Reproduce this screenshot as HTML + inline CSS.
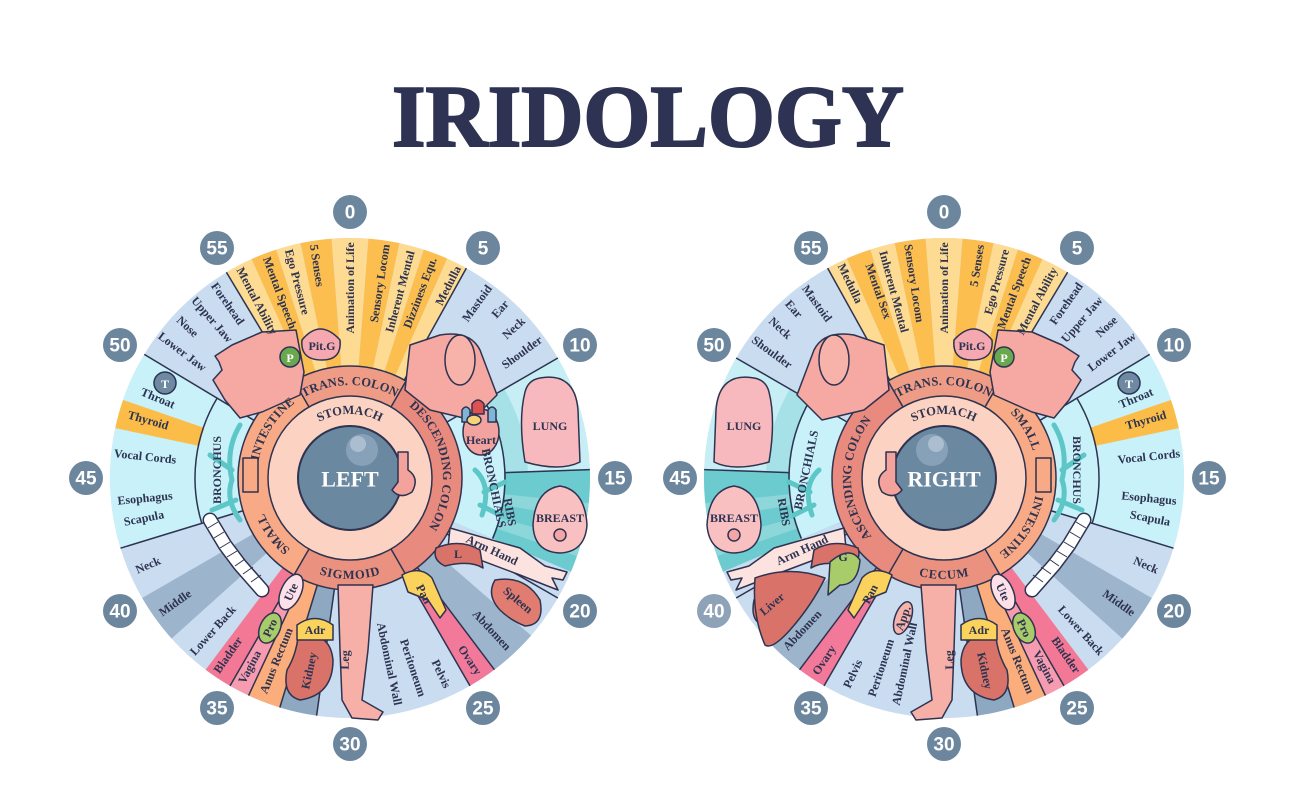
<!DOCTYPE html>
<html><head><meta charset="utf-8"><style>
html,body{margin:0;padding:0;background:#fff}
svg{display:block}
.t{font-family:"Liberation Serif",serif;font-weight:bold;font-size:12px;fill:#2d3350;text-anchor:middle;dominant-baseline:central}
.r{font-family:"Liberation Serif",serif;font-weight:bold;font-size:12.5px;fill:#2d3350;text-anchor:middle;dominant-baseline:central;letter-spacing:0.5px}
.b{font-family:"Liberation Sans",sans-serif;font-weight:bold;font-size:19px;fill:#fff;text-anchor:middle;dominant-baseline:central}
.s{fill:none;stroke-width:128px}
.k{stroke:#2d3350;stroke-width:1.5}
.o{stroke:#2d3350;stroke-width:1.5;stroke-linejoin:round}
</style></head><body>
<svg width="1296" height="810" viewBox="0 0 1296 810" xmlns="http://www.w3.org/2000/svg">
<rect width="1296" height="810" fill="#fff"/>
<text x="648" y="146" text-anchor="middle" font-family="Liberation Serif,serif" font-weight="bold" font-size="88" fill="#2e3353" stroke="#2e3353" stroke-width="2" textLength="512" lengthAdjust="spacingAndGlyphs">IRIDOLOGY</text>
<defs>
<path id="pTop" d="M -97 0 A 97 97 0 0 1 97 0"/>
<path id="pRight" d="M 0 -97 A 97 97 0 0 1 0 97"/>
<path id="pBot" d="M -97 0 A 97 97 0 0 0 97 0"/>
<path id="pLeft" d="M 0 97 A 97 97 0 0 1 0 -97"/>
<path id="pStom" d="M -68 0 A 68 68 0 0 1 68 0"/>
</defs>

<g id="W">
<g transform="translate(350 478)">
<circle r="240" fill="#c9dcf0"/>
<circle class="s" r="176" pathLength="360" stroke="#fedb92" stroke-dasharray="6.8 400" transform="rotate(-121)"/>
<circle class="s" r="176" pathLength="360" stroke="#fcbf4f" stroke-dasharray="6.3 400" transform="rotate(-114.2)"/>
<circle class="s" r="176" pathLength="360" stroke="#fedb92" stroke-dasharray="6 400" transform="rotate(-107.9)"/>
<circle class="s" r="176" pathLength="360" stroke="#fcbf4f" stroke-dasharray="7.5 400" transform="rotate(-101.9)"/>
<circle class="s" r="176" pathLength="360" stroke="#fedb92" stroke-dasharray="8.8 400" transform="rotate(-94.4)"/>
<circle class="s" r="176" pathLength="360" stroke="#fcbf4f" stroke-dasharray="7.5 400" transform="rotate(-85.6)"/>
<circle class="s" r="176" pathLength="360" stroke="#fedb92" stroke-dasharray="6 400" transform="rotate(-78.1)"/>
<circle class="s" r="176" pathLength="360" stroke="#fcbf4f" stroke-dasharray="6 400" transform="rotate(-72.1)"/>
<circle class="s" r="176" pathLength="360" stroke="#fedb92" stroke-dasharray="5.1 400" transform="rotate(-66.1)"/>
<circle class="s" r="176" pathLength="360" stroke="#c6eef4" stroke-dasharray="28 400" transform="rotate(-30)"/>
<circle r="166" pathLength="360" fill="none" stroke="#8fd9dc" stroke-width="24" stroke-dasharray="28 400" transform="rotate(-30)" opacity="0.6"/>
<circle class="s" r="176" pathLength="360" stroke="#6ccbcf" stroke-dasharray="25 400" transform="rotate(-2)"/>
<circle class="s" r="176" pathLength="360" stroke="#8dd7da" stroke-dasharray="4 400" transform="rotate(6)"/>
<circle class="s" r="176" pathLength="360" stroke="#8dd7da" stroke-dasharray="4 400" transform="rotate(15)"/>
<circle class="s" r="176" pathLength="360" stroke="#9db5cc" stroke-dasharray="12 400" transform="rotate(41)"/>
<circle class="s" r="176" pathLength="360" stroke="#f2799a" stroke-dasharray="7 400" transform="rotate(53)"/>
<circle class="s" r="176" pathLength="360" stroke="#8ea8c1" stroke-dasharray="9 400" transform="rotate(98)"/>
<circle class="s" r="176" pathLength="360" stroke="#fbae7b" stroke-dasharray="8 400" transform="rotate(107)"/>
<circle class="s" r="176" pathLength="360" stroke="#f79cb0" stroke-dasharray="5 400" transform="rotate(115)"/>
<circle class="s" r="176" pathLength="360" stroke="#f37896" stroke-dasharray="7 400" transform="rotate(120)"/>
<circle class="s" r="176" pathLength="360" stroke="#9db5cc" stroke-dasharray="12 400" transform="rotate(138)"/>
<circle class="s" r="176" pathLength="360" stroke="#c8f1fa" stroke-dasharray="48 400" transform="rotate(163)"/>
<circle class="s" r="176" pathLength="360" stroke="#fbbd48" stroke-dasharray="7 400" transform="rotate(192)"/>
<circle r="133" pathLength="360" fill="none" stroke="#c8f1fa" stroke-width="42" stroke-dasharray="48 400" transform="rotate(163)"/>
<circle r="133" pathLength="360" fill="none" stroke="#c8f1fa" stroke-width="42" stroke-dasharray="53 400" transform="rotate(-30)"/>
<circle r="155" pathLength="360" fill="none" class="k" stroke-dasharray="48 400" transform="rotate(163)"/>
<circle r="155" pathLength="360" fill="none" class="k" stroke-dasharray="53 400" transform="rotate(-30)"/>
<g class="k">
<line x1="112" x2="240" transform="rotate(-121)"/>
<line x1="112" x2="240" transform="rotate(-61)"/>
<line x1="112" x2="240" transform="rotate(-30)"/>
<line x1="155" x2="240" transform="rotate(-2)"/>
<line x1="112" x2="240" transform="rotate(30)"/>
<line x1="112" x2="240" transform="rotate(53)"/>
<line x1="112" x2="240" transform="rotate(60)"/>
<line x1="112" x2="240" transform="rotate(98)"/>
<line x1="112" x2="240" transform="rotate(107)"/>
<line x1="112" x2="240" transform="rotate(115)"/>
<line x1="112" x2="240" transform="rotate(120)"/>
<line x1="112" x2="240" transform="rotate(163)"/>
<line x1="112" x2="240" transform="rotate(211)"/>
</g>
<circle r="97" pathLength="360" fill="none" stroke="#ee9c86" stroke-width="30" stroke-dasharray="60 400" transform="rotate(-120)"/>
<circle r="97" pathLength="360" fill="none" stroke="#e88a7d" stroke-width="30" stroke-dasharray="120 400" transform="rotate(-60)"/>
<circle r="97" pathLength="360" fill="none" stroke="#eb917f" stroke-width="30" stroke-dasharray="60 400" transform="rotate(60)"/>
<circle r="97" pathLength="360" fill="none" stroke="#f8a985" stroke-width="30" stroke-dasharray="120 400" transform="rotate(120)"/>
<circle r="112" fill="none" class="k"/>
<circle r="82" fill="#fcd3c2" class="k"/>
<g class="k"><line x1="82" x2="112" transform="rotate(-120)"/><line x1="82" x2="112" transform="rotate(-60)"/><line x1="82" x2="112" transform="rotate(60)"/><line x1="82" x2="112" transform="rotate(120)"/></g>
<circle r="52" fill="#6b88a1" stroke="#2d3350" stroke-width="2"/>
<circle cx="12" cy="-28" r="16" fill="#8ea8bf" opacity="0.8"/>
<circle cx="8" cy="-34" r="8" fill="#b3c5d4" opacity="0.8"/>
</g>
<path class="o" fill="#f6a8a2" d="M262 332 L296 330 L304 372 L300 395 L262 412 L240 418 L225 400 L213 380 L222 370 L219 362 L215 356 L232 345 Z"/>
<path class="o" fill="#f6a8a2" d="M410 345 L440 335 Q470 330 480 350 L497 395 L472 420 L430 410 L405 390 Z"/>
<ellipse class="o" cx="460" cy="360" rx="15" ry="25" fill="#f7b3aa"/>
<path class="o" fill="#f7b9bd" d="M540 378 Q575 372 578 410 L580 462 Q560 472 525 462 Q518 420 525 392 Q528 380 540 378 Z"/>
<path class="o" fill="#f9c0c2" d="M560 486 Q585 490 587 525 Q585 552 560 553 Q534 552 533 525 Q535 490 560 486 Z"/>
<circle class="o" cx="560" cy="535" r="6" fill="#f5a5a5"/>
<path class="o" fill="#fde3e0" d="M450 528 L520 548 L545 566 L567 572 L563 580 L552 578 L558 590 L545 585 L520 575 L448 548 Z"/>
<path class="o" fill="#d9736a" d="M436 548 Q460 538 480 550 L483 568 Q470 560 445 566 Q432 560 436 548 Z"/>
<path class="o" fill="#e07c70" d="M495 580 Q525 575 540 600 Q545 625 525 626 Q510 620 500 610 Q486 595 495 580 Z"/>
<path class="o" fill="#fbd25c" d="M402 575 Q420 565 432 578 L446 610 L440 618 L428 600 L408 592 Z"/>
<path class="o" fill="#f6b0a8" d="M338 585 L373 585 L368 650 L362 700 L383 712 L378 720 L352 718 L342 700 L340 650 Z"/>
<path class="o" fill="#d9736a" d="M298 637 Q330 630 333 660 Q333 695 300 700 Q282 695 287 670 Q296 655 298 637 Z"/>
<path class="o" fill="#fbd25c" d="M297 625 Q315 612 333 625 L333 640 L297 640 Z"/>
<ellipse class="o" cx="291" cy="592" rx="10" ry="19" transform="rotate(25 291 592)" fill="#fde0e8"/>
<ellipse class="o" cx="270" cy="628" rx="10" ry="16" transform="rotate(25 270 628)" fill="#a9cc6a"/>
<polyline points="210,520 225,545 240,565 262,590" fill="none" stroke="#2d3350" stroke-width="15" stroke-linecap="round"/>
<polyline points="210,520 225,545 240,565 262,590" fill="none" stroke="#fff" stroke-width="12" stroke-linecap="round"/>
<path fill="none" stroke="#2d3350" stroke-width="1" d="M208 528 l10 -6 M214 538 l10 -6 M220 548 l10 -6 M227 557 l10 -6 M235 566 l10 -7 M243 574 l10 -7 M251 582 l10 -7"/>
<path class="o" fill="#f6a8b0" d="M302 340 Q320 318 340 340 Q342 360 322 360 Q300 360 302 340 Z"/>
<circle class="o" cx="290" cy="357" r="10" fill="#6aa84f"/>
<circle class="o" cx="165" cy="383" r="11" fill="#6e89a2"/>
<path fill="none" stroke="#5dc6c6" stroke-width="5" stroke-linecap="round" d="M240 425 Q225 450 232 480 Q225 500 240 520 M232 470 L210 455 M236 500 L212 510 M475 470 Q492 485 482 515 M484 492 L505 482 M480 505 L500 515"/>
<path class="o" fill="#f4a39c" d="M398 452 L408 452 L408 470 Q420 478 412 492 Q400 500 392 490 L398 482 Z"/>
<path class="o" fill="#f8a985" d="M243 458 L258 458 L258 492 L243 492 Z"/>
</g>
<use href="#W" transform="translate(1294 0) scale(-1 1)"/>
<ellipse class="o" cx="481" cy="432" rx="18" ry="23" fill="#f2a3a0"/>
<path class="o" fill="#e05050" d="M472 404 q6 -8 12 0 v10 h-12 Z"/><path class="o" fill="#7fb5d6" d="M462 410 q4 -6 8 0 v12 h-8 Z M488 410 q4 -6 8 0 v12 h-8 Z"/><ellipse class="o" cx="474" cy="420" rx="7" ry="5" fill="#f6d27a"/>
<path class="o" fill="#d9736a" d="M755 578 Q790 565 825 578 Q812 605 790 630 Q772 650 765 645 Q752 615 755 578 Z"/>
<path class="o" fill="#a9cc6a" d="M830 562 Q850 545 860 560 Q858 585 840 585 L828 595 Z"/>
<ellipse class="o" cx="903" cy="618" rx="8" ry="17" transform="rotate(20 903 618)" fill="#f7b3aa"/>

<g fill="#6c869e">
<circle cx="350" cy="212" r="17"/><circle cx="483" cy="248" r="17"/><circle cx="580" cy="345" r="17"/><circle cx="615" cy="478" r="17"/><circle cx="580" cy="611" r="17"/><circle cx="483" cy="708" r="17"/><circle cx="350" cy="744" r="17"/><circle cx="217" cy="708" r="17"/><circle cx="120" cy="611" r="17"/><circle cx="86" cy="478" r="17"/><circle cx="120" cy="345" r="17"/><circle cx="217" cy="248" r="17"/>
<circle cx="944" cy="212" r="17"/><circle cx="1077" cy="248" r="17"/><circle cx="1174" cy="345" r="17"/><circle cx="1209" cy="478" r="17"/><circle cx="1174" cy="611" r="17"/><circle cx="1077" cy="708" r="17"/><circle cx="944" cy="744" r="17"/><circle cx="811" cy="708" r="17"/><circle cx="714" cy="611" r="17" fill="#8ea3b7"/><circle cx="680" cy="478" r="17"/><circle cx="714" cy="345" r="17"/><circle cx="811" cy="248" r="17"/>
</g>
<g class="b">
<text x="350" y="213">0</text><text x="483" y="249">5</text><text x="580" y="346">10</text><text x="615" y="479">15</text><text x="580" y="612">20</text><text x="483" y="709">25</text><text x="350" y="745">30</text><text x="217" y="709">35</text><text x="120" y="612">40</text><text x="86" y="479">45</text><text x="120" y="346">50</text><text x="217" y="249">55</text>
<text x="944" y="213">0</text><text x="1077" y="249">5</text><text x="1174" y="346">10</text><text x="1209" y="479">15</text><text x="1174" y="612">20</text><text x="1077" y="709">25</text><text x="944" y="745">30</text><text x="811" y="709">35</text><text x="714" y="612">40</text><text x="680" y="479">45</text><text x="714" y="346">50</text><text x="811" y="249">55</text>
</g>

<g transform="translate(350 478)">
<text class="t" transform="rotate(-117.7) translate(200 0) rotate(180)">Mental Ability</text>
<text class="t" transform="rotate(-110.7) translate(198 0) rotate(180)">Mental Speech</text>
<text class="t" transform="rotate(-105) translate(203 0) rotate(180)">Ego Pressure</text>
<text class="t" transform="rotate(-98.8) translate(215 0) rotate(180)">5 Senses</text>
<text class="t" transform="rotate(-90) translate(190 0)">Animation of Life</text>
<text class="t" transform="rotate(-81.3) translate(197 0)">Sensory Locom</text>
<text class="t" transform="rotate(-75) translate(193 0)">Inherent Mental</text>
<text class="t" transform="rotate(-69.3) translate(198 0)">Dizziness Equ.</text>
<text class="t" transform="rotate(-63) translate(216 0)">Medulla</text>
<text class="t" transform="rotate(-54) translate(216 0)">Mastoid</text>
<text class="t" transform="rotate(-48.4) translate(226 0)">Ear</text>
<text class="t" transform="rotate(-42.5) translate(222 0)">Neck</text>
<text class="t" transform="rotate(-36.2) translate(213 0)">Shoulder</text>
<text class="t" transform="rotate(235) translate(213 0) rotate(180)">Forehead</text>
<text class="t" transform="rotate(229) translate(210 0) rotate(180)">Upper Jaw</text>
<text class="t" transform="rotate(223) translate(222 0) rotate(180)">Nose</text>
<text class="t" transform="rotate(217) translate(210 0) rotate(180)">Lower Jaw</text>
<text class="t" transform="rotate(202.6) translate(208 0) rotate(180)">Throat</text>
<text class="t" transform="rotate(196) translate(210 0) rotate(180)">Thyroid</text>
<text class="t" transform="rotate(186) translate(206 0) rotate(180)">Vocal Cords</text>
<text class="t" transform="rotate(174.4) translate(206 0) rotate(180)">Esophagus</text>
<text class="t" transform="rotate(169) translate(210 0) rotate(180)">Scapula</text>
<text class="t" transform="rotate(156.7) translate(220 0) rotate(180)">Neck</text>
<text class="t" transform="rotate(144.5) translate(215 0) rotate(180)">Middle</text>
<text class="t" transform="rotate(132) translate(205 0) rotate(180)">Lower Back</text>
<text class="t" transform="rotate(124.6) translate(215 0) rotate(180)">Bladder</text>
<text class="t" transform="rotate(118) translate(214 0) rotate(180)">Vagina</text>
<text class="t" transform="rotate(112) translate(197 0) rotate(180)">Anus Rectum</text>
<text class="t" transform="rotate(102) translate(197 0) rotate(180)">Kidney</text>
<text class="t" transform="rotate(91.6) translate(182 0) rotate(180)">Leg</text>
<text class="t" transform="rotate(78) translate(190 0)">Abdominal Wall</text>
<text class="t" transform="rotate(71.6) translate(200 0)">Peritoneum</text>
<text class="t" transform="rotate(65) translate(216 0)">Pelvis</text>
<text class="t" transform="rotate(56.6) translate(218 0)">Ovary</text>
<text class="t" transform="rotate(47) translate(208 0)">Abdomen</text>
<text class="r"><textPath href="#pTop" startOffset="50%">TRANS. COLON</textPath></text>
<text class="r"><textPath href="#pRight" startOffset="45%">DESCENDING COLON</textPath></text>
<text class="r"><textPath href="#pBot" startOffset="50%">SIGMOID</textPath></text>
<text class="r"><textPath href="#pLeft" startOffset="68%">INTESTINE</textPath></text>
<text class="r"><textPath href="#pLeft" startOffset="30%">SMALL</textPath></text>
<text class="r"><textPath href="#pStom" startOffset="50%">STOMACH</textPath></text>
<text x="0" y="1" font-family="Liberation Serif,serif" font-weight="bold" font-size="22" fill="#fff" text-anchor="middle" dominant-baseline="central">LEFT</text>
</g>
<text class="t" x="481" y="440">Heart</text>
<text class="t" x="550" y="426">LUNG</text>
<text class="t" x="560" y="518">BREAST</text>
<text class="t" transform="translate(510 512) rotate(80)">RIBS</text>
<text class="t" transform="translate(494 488) rotate(78)">BRONCHIALS</text>
<text class="t" transform="translate(217 470) rotate(-90)">BRONCHUS</text>
<text class="t" transform="translate(492 550) rotate(25)">Arm Hand</text>
<text class="t" x="458" y="554">L</text>
<text class="t" transform="translate(518 600) rotate(40)">Spleen</text>
<text class="t" transform="translate(424 594) rotate(62)">Pan</text>
<text class="t" x="315" y="630">Adr</text>
<text class="t" transform="translate(291 592) rotate(-65)">Ute</text>
<text class="t" transform="translate(270 628) rotate(-65)">Pro</text>
<text class="t" x="322" y="346">Pit.G</text>
<text x="290" y="358" class="t" style="fill:#fff">P</text>
<text x="165" y="384" class="t" style="fill:#fff">T</text>

<g transform="translate(944 478)">
<text class="t" transform="rotate(-115.7) translate(216 0) rotate(180)">Medulla</text>
<text class="t" transform="rotate(-109.3) translate(198 0) rotate(180)">Mental Sex</text>
<text class="t" transform="rotate(-105) translate(193 0) rotate(180)">Inherent Mental</text>
<text class="t" transform="rotate(-98.7) translate(197 0) rotate(180)">Sensory Locom</text>
<text class="t" transform="rotate(-90) translate(190 0)">Animation of Life</text>
<text class="t" transform="rotate(-81.2) translate(215 0)">5 Senses</text>
<text class="t" transform="rotate(-75) translate(203 0)">Ego Pressure</text>
<text class="t" transform="rotate(-69.3) translate(198 0)">Mental Speech</text>
<text class="t" transform="rotate(-62.3) translate(200 0)">Mental Ability</text>
<text class="t" transform="rotate(234) translate(216 0) rotate(180)">Mastoid</text>
<text class="t" transform="rotate(228.4) translate(226 0) rotate(180)">Ear</text>
<text class="t" transform="rotate(222.5) translate(222 0) rotate(180)">Neck</text>
<text class="t" transform="rotate(216.2) translate(213 0) rotate(180)">Shoulder</text>
<text class="t" transform="rotate(-55) translate(213 0)">Forehead</text>
<text class="t" transform="rotate(-49) translate(210 0)">Upper Jaw</text>
<text class="t" transform="rotate(-43) translate(222 0)">Nose</text>
<text class="t" transform="rotate(-37) translate(210 0)">Lower Jaw</text>
<text class="t" transform="rotate(-22.6) translate(208 0)">Throat</text>
<text class="t" transform="rotate(-16) translate(210 0)">Thyroid</text>
<text class="t" transform="rotate(-6) translate(206 0)">Vocal Cords</text>
<text class="t" transform="rotate(5.6) translate(206 0)">Esophagus</text>
<text class="t" transform="rotate(11) translate(210 0)">Scapula</text>
<text class="t" transform="rotate(23.3) translate(220 0)">Neck</text>
<text class="t" transform="rotate(35.5) translate(215 0)">Middle</text>
<text class="t" transform="rotate(48) translate(205 0)">Lower Back</text>
<text class="t" transform="rotate(55.4) translate(215 0)">Bladder</text>
<text class="t" transform="rotate(62) translate(214 0)">Vagina</text>
<text class="t" transform="rotate(68) translate(197 0)">Anus Rectum</text>
<text class="t" transform="rotate(78) translate(197 0)">Kidney</text>
<text class="t" transform="rotate(88.4) translate(182 0) rotate(180)">Leg</text>
<text class="t" transform="rotate(102) translate(190 0) rotate(180)">Abdominal Wall</text>
<text class="t" transform="rotate(108.4) translate(200 0) rotate(180)">Peritoneum</text>
<text class="t" transform="rotate(115) translate(216 0) rotate(180)">Pelvis</text>
<text class="t" transform="rotate(123.4) translate(218 0) rotate(180)">Ovary</text>
<text class="t" transform="rotate(133) translate(208 0) rotate(180)">Abdomen</text>
<text class="r"><textPath href="#pTop" startOffset="50%">TRANS. COLON</textPath></text>
<text class="r"><textPath href="#pLeft" startOffset="50%">ASCENDING COLON</textPath></text>
<text class="r"><textPath href="#pBot" startOffset="50%">CECUM</textPath></text>
<text class="r"><textPath href="#pRight" startOffset="33%">SMALL</textPath></text>
<text class="r"><textPath href="#pRight" startOffset="68%">INTESTINE</textPath></text>
<text class="r"><textPath href="#pStom" startOffset="50%">STOMACH</textPath></text>
<text x="0" y="1" font-family="Liberation Serif,serif" font-weight="bold" font-size="22" fill="#fff" text-anchor="middle" dominant-baseline="central">RIGHT</text>
</g>
<text class="t" x="744" y="426">LUNG</text>
<text class="t" x="734" y="518">BREAST</text>
<text class="t" transform="translate(784 512) rotate(80)">RIBS</text>
<text class="t" transform="translate(806 470) rotate(-78)">BRONCHIALS</text>
<text class="t" transform="translate(1077 470) rotate(90)">BRONCHUS</text>
<text class="t" transform="translate(802 550) rotate(-25)">Arm Hand</text>
<text class="t" transform="translate(772 604) rotate(-40)">Liver</text>
<text class="t" x="843" y="557">G</text>
<text class="t" transform="translate(870 594) rotate(-62)">Pan</text>
<text class="t" transform="translate(903 618) rotate(-70)">App.</text>
<text class="t" x="979" y="630">Adr</text>
<text class="t" transform="translate(1003 592) rotate(65)">Ute</text>
<text class="t" transform="translate(1024 628) rotate(65)">Pro</text>
<text class="t" x="972" y="346">Pit.G</text>
<text x="1004" y="358" class="t" style="fill:#fff">P</text>
<text x="1129" y="384" class="t" style="fill:#fff">T</text>
</svg>
</body></html>
